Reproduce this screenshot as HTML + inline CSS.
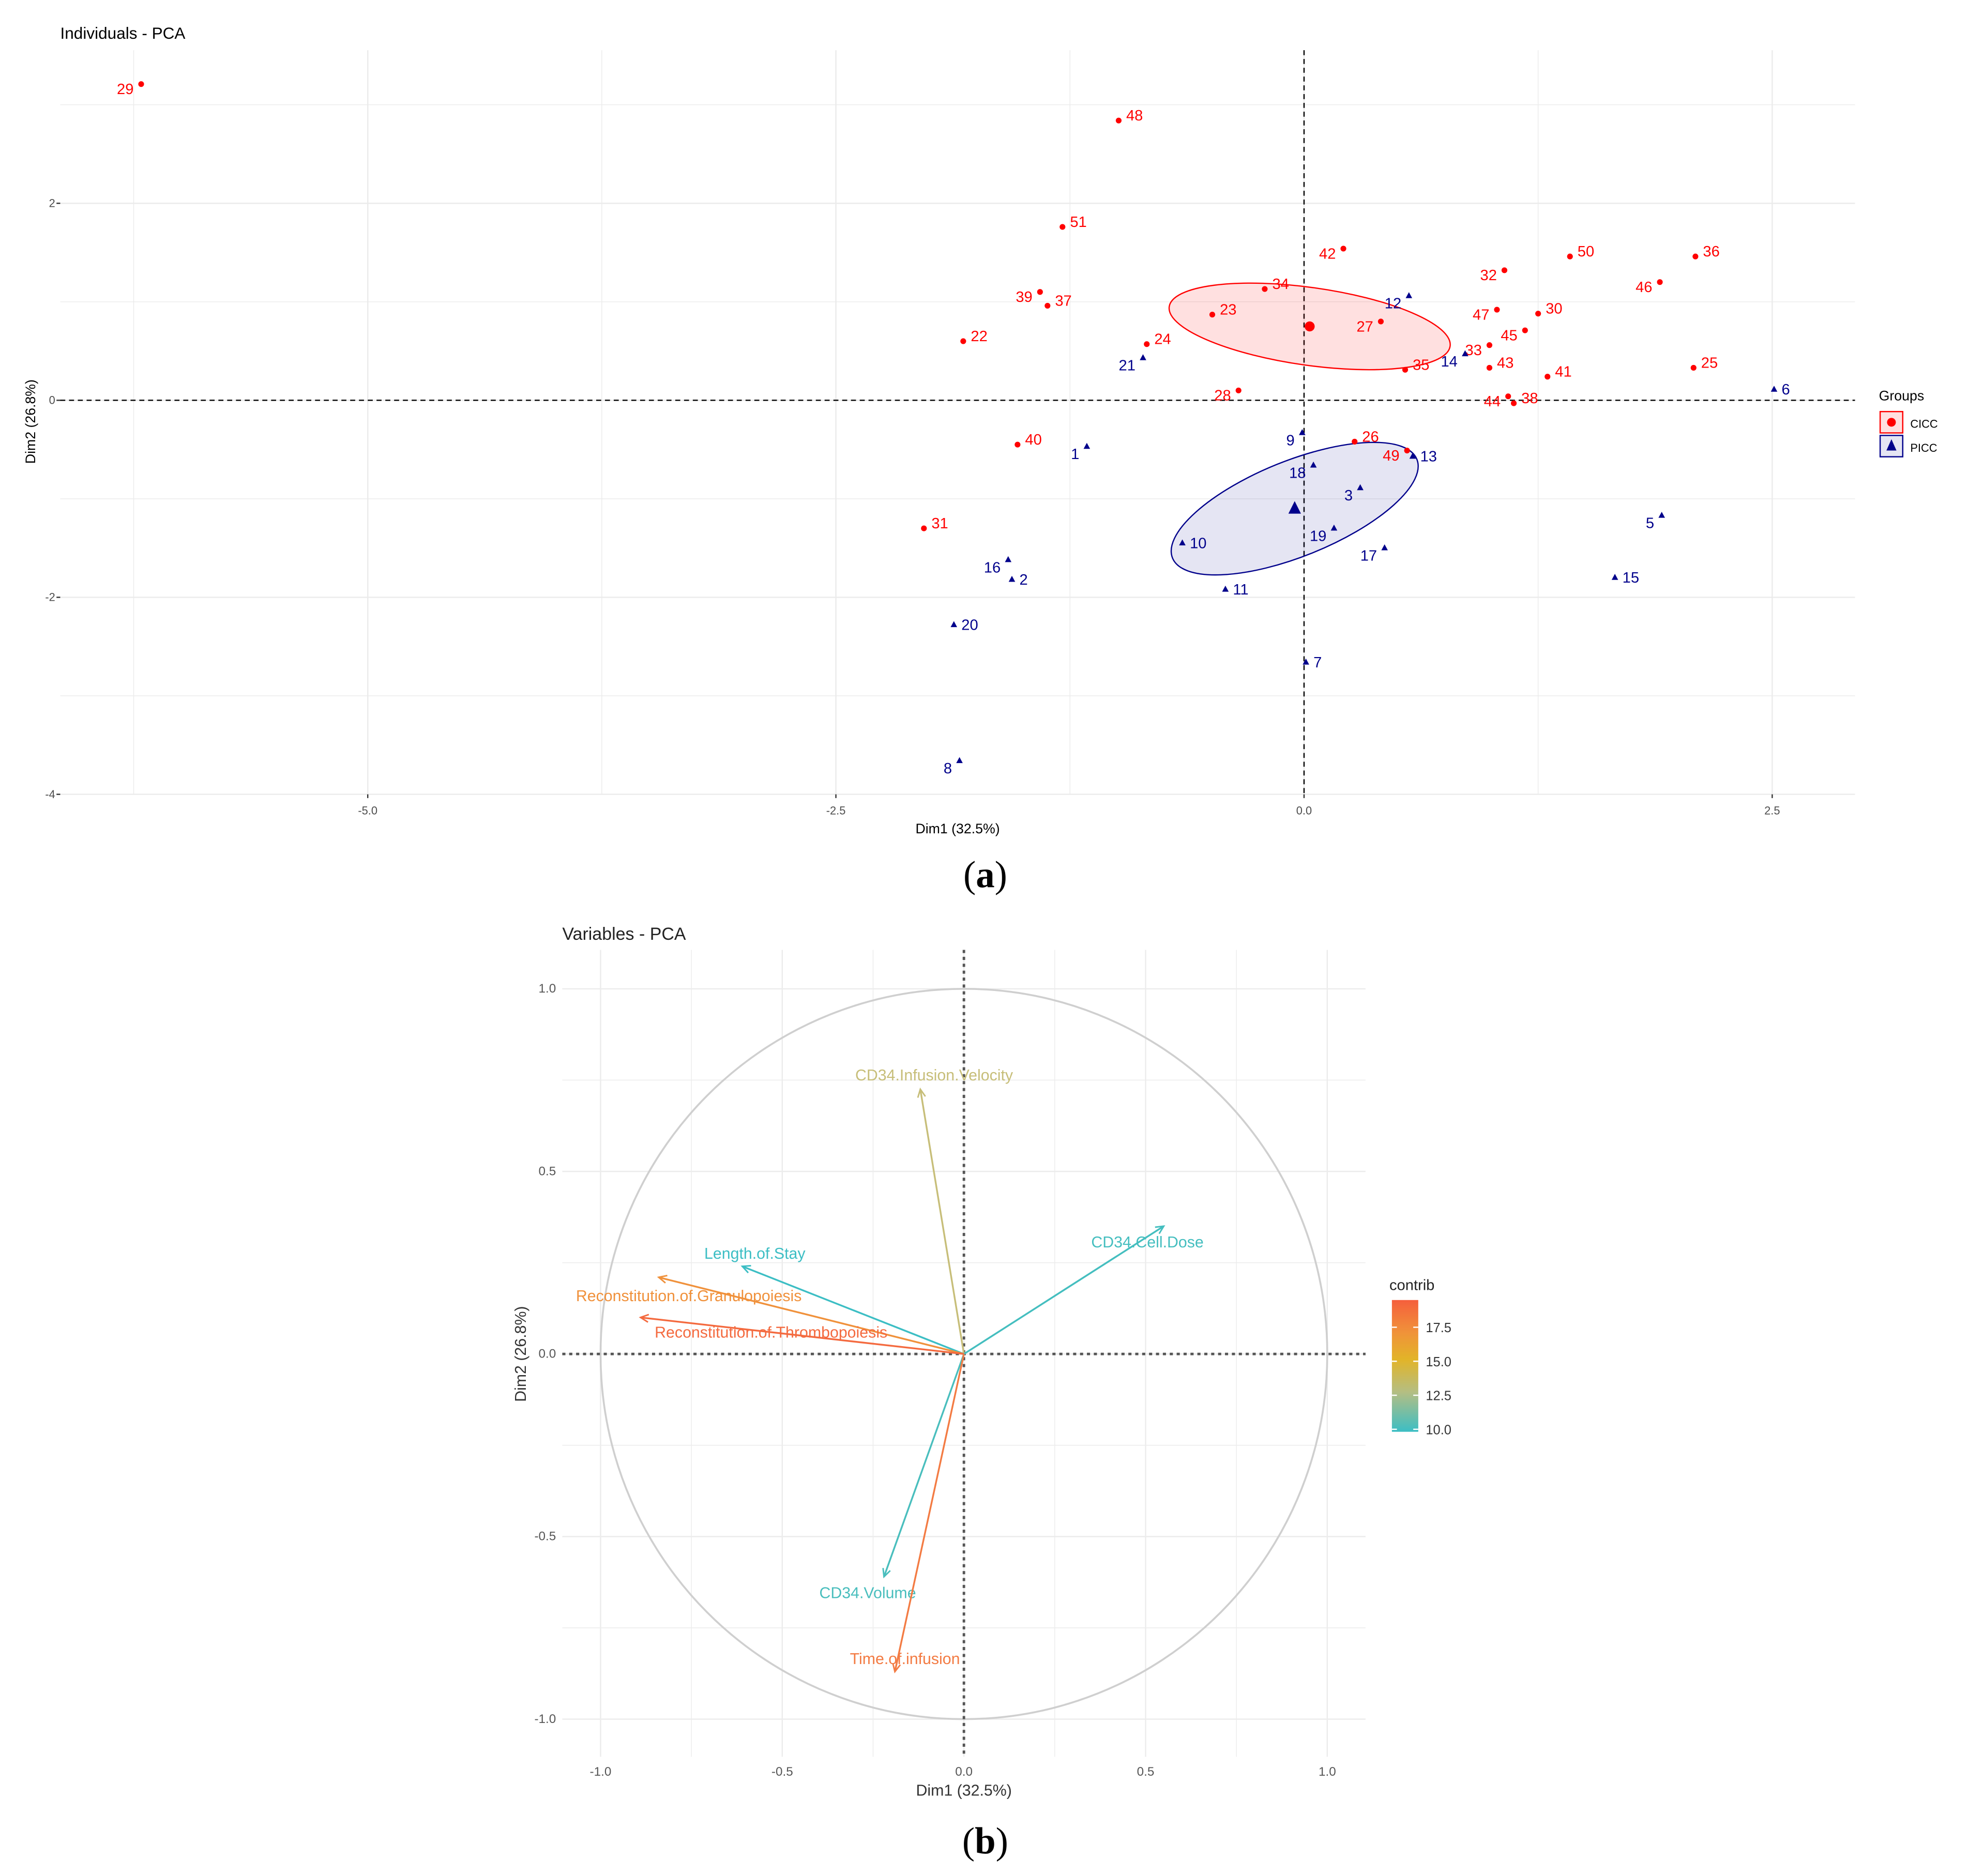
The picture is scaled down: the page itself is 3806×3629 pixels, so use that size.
<!DOCTYPE html>
<html><head><meta charset="utf-8"><style>
html,body{margin:0;padding:0;background:#fff}
svg{display:block}
text{font-family:"Liberation Sans",sans-serif}
text.serif{font-family:"Liberation Serif",serif}
</style></head><body>
<svg id="fig" width="3806" height="3629" viewBox="0 0 1568 1495" preserveAspectRatio="none" xmlns="http://www.w3.org/2000/svg">
<rect width="1568" height="1495" fill="#fff"/>
<g id="pa"></g>
<g id="pb"></g>
<text class="serif" x="785" y="707" text-anchor="middle" font-size="30">(<tspan font-weight="bold">a</tspan>)</text>
<text class="serif" x="785" y="1477" text-anchor="middle" font-size="30">(<tspan font-weight="bold">b</tspan>)</text>
</svg>
<script>
// ---- Panel A data ----
const cicIds = ["29","48","51","42","50","36","32","46","39","34","37","47","30","23","27","45","22","24","33","35","25","43","41","28","44","38","40","26","49","31"];
const cicX = [-6.21,-0.99,-1.29,0.21,1.42,2.09,1.07,1.90,-1.41,-0.21,-1.37,1.03,1.25,-0.49,0.41,1.18,-1.82,-0.84,0.99,0.54,2.08,0.99,1.30,-0.35,1.09,1.12,-1.53,0.27,0.55,-2.03];
const cicY = [3.21,2.84,1.76,1.54,1.46,1.46,1.32,1.20,1.10,1.13,0.96,0.92,0.88,0.87,0.80,0.71,0.60,0.57,0.56,0.31,0.33,0.33,0.24,0.10,0.04,-0.03,-0.45,-0.42,-0.51,-1.30];
const cicSide = ["l","r","r","l","r","r","l","l","l","r","r","l","r","r","l","l","r","r","l","r","r","r","r","l","l","r","r","r","l","r"];
const picIds = ["12","21","14","6","9","1","13","18","3","5","10","19","17","16","2","15","11","20","7","8"];
const picX = [0.56,-0.86,0.86,2.51,-0.01,-1.16,0.58,0.05,0.30,1.91,-0.65,0.16,0.43,-1.58,-1.56,1.66,-0.42,-1.87,0.01,-1.84];
const picY = [1.06,0.43,0.47,0.11,-0.33,-0.47,-0.57,-0.66,-0.89,-1.17,-1.45,-1.30,-1.50,-1.62,-1.82,-1.80,-1.92,-2.28,-2.66,-3.66];
const picSide = ["l","l","l","r","l","l","r","l","l","l","r","l","l","l","r","r","r","r","r","l"];
const xTicksA = [-5.0,-2.5,0.0,2.5];
const yTicksA = [2,0,-2,-4];
const cicCenter = [0.03,0.75];
const picCenter = [-0.05,-1.10];

// ---- Panel B data ----
const varNames = ["CD34.Infusion.Velocity","CD34.Cell.Dose","Length.of.Stay","Reconstitution.of.Granulopoiesis","Reconstitution.of.Thrombopoiesis","CD34.Volume","Time.of.infusion"];
const varX = [-0.12,0.55,-0.61,-0.84,-0.89,-0.22,-0.19];
const varY = [0.725,0.35,0.24,0.21,0.10,-0.61,-0.87];
const varContrib = [13.3,10.2,10.0,17.2,19.0,10.3,18.2];
const xTicksB = [-1.0,-0.5,0.0,0.5,1.0];
const yTicksB = [1.0,0.5,0.0,-0.5,-1.0];
const cbTicks = [17.5,15.0,12.5,10.0];

const NS="http://www.w3.org/2000/svg";
function mk(tag,attrs,parent,txt){const e=document.createElementNS(NS,tag);for(const k in attrs)e.setAttribute(k,attrs[k]);if(txt!==undefined)e.textContent=txt;parent.appendChild(e);return e;}

// ===== Panel A =====
const pa=document.getElementById('pa');
const ax=v=>1039+v*149.2, ay=v=>319-v*78.5;
const L=48,R=1478,T=40,B=633;
for(let v=-6.25;v<=2.6;v+=1.25){const g=mk('line',{x1:ax(v),x2:ax(v),y1:T,y2:B,stroke:'#ebebeb','stroke-width':Math.abs((v*2/2.5)%2)<0.01?1:0.6},pa);}
for(let v=-4;v<=3;v+=1){const g=mk('line',{x1:L,x2:R,y1:ay(v),y2:ay(v),stroke:'#ebebeb','stroke-width':v%2===0?1:0.6},pa);}
{const z=mk('line',{x1:ax(0),x2:ax(0),y1:T,y2:B,stroke:'#000','stroke-dasharray':'4,3','stroke-width':1},pa);
const z2=mk('line',{x1:L,x2:R,y1:ay(0),y2:ay(0),stroke:'#000','stroke-dasharray':'4,3','stroke-width':1},pa);}
xTicksA.forEach(v=>{const t=mk('text',{x:ax(v),y:B+16,'text-anchor':'middle','font-size':9,fill:'#4d4d4d'},pa,v.toFixed(1));mk('line',{x1:ax(v),x2:ax(v),y1:B,y2:B+3,stroke:'#333'},pa);});
yTicksA.forEach(v=>{const t=mk('text',{x:44,y:ay(v)+3,'text-anchor':'end','font-size':9,fill:'#4d4d4d'},pa,String(v));mk('line',{x1:45,x2:48,y1:ay(v),y2:ay(v),stroke:'#333'},pa);});
{const e=mk('ellipse',{cx:ax(cicCenter[0]),cy:ay(cicCenter[1]),rx:113,ry:31,transform:`rotate(8 ${ax(cicCenter[0])} ${ay(cicCenter[1])})`,fill:'rgba(255,0,0,0.12)',stroke:'#ff0000','stroke-width':1},pa);
const e2=mk('ellipse',{cx:ax(picCenter[0]),cy:ay(picCenter[1]),rx:105,ry:38,transform:`rotate(-22 ${ax(picCenter[0])} ${ay(picCenter[1])})`,fill:'rgba(0,0,139,0.1)',stroke:'#00008b','stroke-width':1},pa);
const c=mk('circle',{cx:ax(cicCenter[0]),cy:ay(cicCenter[1]),r:4,fill:'#ff0000'},pa);
const cx=ax(picCenter[0]),cy=ay(picCenter[1]);const p=mk('polygon',{points:`${cx},${cy-6} ${cx-5},${cy+4} ${cx+5},${cy+4}`,fill:'#00008b'},pa);}
cicIds.forEach((id,i)=>{const x=ax(cicX[i]),y=ay(cicY[i]);
const c=mk('circle',{cx:x,cy:y,r:2.3,fill:'#ff0000'},pa);
const r=cicSide[i]==='r';const t=mk('text',{x:r?x+6:x-6,y:y+(r?0:8),'text-anchor':r?'start':'end','font-size':12,fill:'#ff0000'},pa,id);});
picIds.forEach((id,i)=>{const x=ax(picX[i]),y=ay(picY[i]);
const p=mk('polygon',{points:`${x},${y-3} ${x-2.6},${y+1.8} ${x+2.6},${y+1.8}`,fill:'#00008b'},pa);
const r=picSide[i]==='r';const t=mk('text',{x:r?x+6:x-6,y:y+(r?4:10),'text-anchor':r?'start':'end','font-size':12,fill:'#00008b'},pa,id);});
{const t=mk('text',{x:48,y:31,'font-size':13,fill:'#000'},pa,'Individuals - PCA');
const t2=mk('text',{x:763,y:664,'text-anchor':'middle','font-size':11,fill:'#000'},pa,'Dim1 (32.5%)');
const t3=mk('text',{x:0,y:0,'text-anchor':'middle','font-size':11,fill:'#000',transform:'translate(28,336) rotate(-90)'},pa,'Dim2 (26.8%)');
const lg=mk('text',{x:1497,y:319,'font-size':11,fill:'#000'},pa,'Groups');
const k1=mk('rect',{x:1498,y:328,width:18,height:17,fill:'rgba(255,0,0,0.12)',stroke:'#ff0000'},pa);
mk('circle',{cx:1507,cy:336.5,r:3.5,fill:'#ff0000'},pa);
const k2=mk('rect',{x:1498,y:347,width:18,height:17,fill:'rgba(0,0,139,0.1)',stroke:'#00008b'},pa);
mk('polygon',{points:'1507,350 1503,359 1511,359',fill:'#00008b'},pa);
const l1=mk('text',{x:1522,y:341,'font-size':9,fill:'#000'},pa,'CICC');
const l2=mk('text',{x:1522,y:360,'font-size':9,fill:'#000'},pa,'PICC');}

// ===== Panel B =====
const pb=document.getElementById('pb');
const bx=v=>768+v*289.5, by=v=>1079-v*291;
const BL=448,BR=1088,BT=757,BB=1400;
for(let v=-1;v<=1.01;v+=0.25){mk('line',{x1:bx(v),x2:bx(v),y1:BT,y2:BB,stroke:'#ececec','stroke-width':Math.abs((v*2)%1)<0.01?1:0.6},pb);mk('line',{x1:BL,x2:BR,y1:by(v),y2:by(v),stroke:'#ececec','stroke-width':Math.abs((v*2)%1)<0.01?1:0.6},pb);}
{const c=mk('ellipse',{cx:bx(0),cy:by(0),rx:289.5,ry:291,fill:'none',stroke:'#cfcfcf','stroke-width':1.5},pb);
mk('line',{x1:bx(0),x2:bx(0),y1:BT,y2:BB,stroke:'#555','stroke-dasharray':'2.5,3','stroke-width':2},pb);
mk('line',{x1:BL,x2:BR,y1:by(0),y2:by(0),stroke:'#555','stroke-dasharray':'2.5,3','stroke-width':2},pb);}
xTicksB.forEach(v=>{const t=mk('text',{x:bx(v),y:BB+15,'text-anchor':'middle','font-size':10,fill:'#555'},pb,v.toFixed(1));});
yTicksB.forEach(v=>{const t=mk('text',{x:BL-5,y:by(v)+3,'text-anchor':'end','font-size':10,fill:'#555'},pb,v.toFixed(1));});
function ccol(c){const f=Math.max(0,Math.min(1,(c-10)/9.5));
 const stops=[[0,[60,190,196]],[0.35,[200,190,120]],[0.6,[232,178,20]],[0.8,[242,136,70]],[1,[245,95,60]]];
 for(let i=1;i<stops.length;i++){if(f<=stops[i][0]){const a=stops[i-1],b=stops[i];const t=(f-a[0])/(b[0]-a[0]);const m=a[1].map((v,j)=>Math.round(v+(b[1][j]-v)*t));return `rgb(${m[0]},${m[1]},${m[2]})`;}}return 'rgb(245,95,60)';}
varNames.forEach((n,i)=>{const x2=bx(varX[i]),y2=by(varY[i]),col=ccol(varContrib[i]);
 const l=mk('line',{x1:bx(0),y1:by(0),x2:x2,y2:y2,stroke:col,'stroke-width':1.4},pb);
 const ang=Math.atan2(y2-by(0),x2-bx(0));const s=7;
 mk('polyline',{points:`${x2-s*Math.cos(ang-0.45)},${y2-s*Math.sin(ang-0.45)} ${x2},${y2} ${x2-s*Math.cos(ang+0.45)},${y2-s*Math.sin(ang+0.45)}`,fill:'none',stroke:col,'stroke-width':1.2},pb);
 let lx=x2,ly=y2-6;
 if(varX[i]<-0.5&&varY[i]>0.15&&varY[i]<0.22){lx=x2+24;ly=y2+19;} else if(varY[i]<0.15&&varY[i]>0&&varX[i]<-0.5){lx=x2+104;ly=y2+16;} else if(varX[i]<-0.5){lx=x2+10;ly=y2-6;} else if(varX[i]>0.3){lx=x2-13;ly=y2+17;} else if(varY[i]<-0.8){lx=x2+8;ly=y2-6;} else if(varY[i]<0){lx=x2-13;ly=y2+17;} else {lx=x2+11;ly=y2-7;}
 const t=mk('text',{x:lx,y:ly,'text-anchor':'middle','font-size':12.5,fill:col},pb,n);});
{const t=mk('text',{x:448,y:749,'font-size':14,fill:'#222'},pb,'Variables - PCA');
const t2=mk('text',{x:768,y:1431,'text-anchor':'middle','font-size':12.5,fill:'#333'},pb,'Dim1 (32.5%)');
const t3=mk('text',{x:0,y:0,'text-anchor':'middle','font-size':12.5,fill:'#333',transform:'translate(419,1079) rotate(-90)'},pb,'Dim2 (26.8%)');
const defs=mk('defs',{},pb);const gr=mk('linearGradient',{id:'cbg',x1:0,y1:1,x2:0,y2:0},defs);
[0,0.3,0.55,0.75,1].forEach(o=>mk('stop',{offset:o,'stop-color':ccol(10+o*9.5)},gr));
const cb=mk('rect',{x:1109,y:1036,width:21,height:105,fill:'url(#cbg)'},pb);
const ct=mk('text',{x:1107,y:1028,'font-size':12,fill:'#222'},pb,'contrib');
cbTicks.forEach(v=>{const yy=1139-(v-10)/9.5*103;mk('line',{x1:1109,x2:1113,y1:yy,y2:yy,stroke:'#fff'},pb);mk('line',{x1:1126,x2:1130,y1:yy,y2:yy,stroke:'#fff'},pb);
 const t=mk('text',{x:1136,y:yy+4,'font-size':10.5,fill:'#333'},pb,v.toFixed(1));});}
</script>
</body></html>
